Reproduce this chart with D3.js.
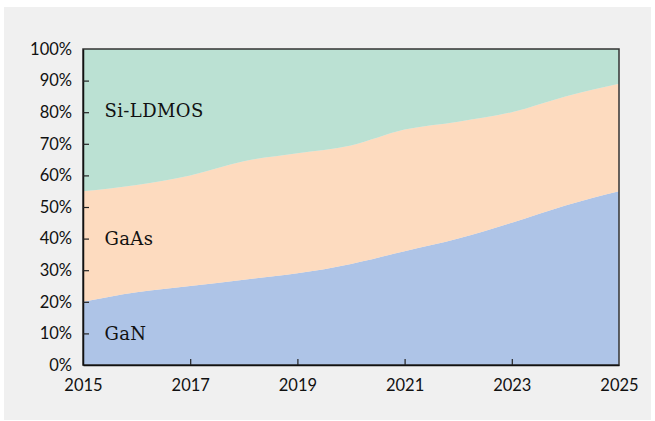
<!DOCTYPE html>
<html>
<head>
<meta charset="utf-8">
<script src="https://cdn.jsdelivr.net/npm/d3@7"></script>
<style>
  body { margin: 0; background: #fff; }
  svg { display: block; }
</style>
</head>
<body>
<svg id="chart" width="655" height="421"></svg>
<script>
// data (share of market, %)
var years = [2015, 2016, 2017, 2018, 2019, 2020, 2021, 2022, 2023, 2024, 2025];
var gan   = [20, 23, 25, 27, 29, 32, 36, 40, 45, 50.5, 55];
var gaas  = [35, 34, 35, 37.5, 38, 37.5, 38.5, 37, 35, 34.5, 34];
var ldmos = [45, 43, 40, 35.5, 33, 30.5, 25.5, 23, 20, 15, 11];
var seriesNames = ["GaN", "GaAs", "Si-LDMOS"];
var colors = ["#aec4e7", "#fddbbf", "#bbe1d3"];
var xTicks = [2015, 2017, 2019, 2021, 2023, 2025];
var yTicks = [0, 10, 20, 30, 40, 50, 60, 70, 80, 90, 100];
var labelPos = [10, 40, 80.5]; // label placed at this % in the band

var svg = d3.select("#chart");
var margin = {left: 83, top: 49, right: 36, bottom: 56};
var width = 655 - margin.left - margin.right,
    height = 421 - margin.top - margin.bottom;

// grey panel
svg.append("rect")
    .attr("x", 4).attr("y", 7)
    .attr("width", 647).attr("height", 413)
    .attr("fill", "#f0f0f0");

var g = svg.append("g").attr("transform", "translate(" + margin.left + "," + margin.top + ")");

var x = d3.scaleLinear().domain([2015, 2025]).range([0, width]);
var y = d3.scaleLinear().domain([0, 100]).range([height, 0]);

var table = years.map(function(yr, i) {
    return {year: yr, "GaN": gan[i], "GaAs": gaas[i], "Si-LDMOS": ldmos[i]};
});
var stack = d3.stack().keys(seriesNames)(table);

var area = d3.area()
    .curve(d3.curveMonotoneX)
    .x(function(d) { return x(d.data.year); })
    .y0(function(d) { return y(d[0]); })
    .y1(function(d) { return y(d[1]); });

g.selectAll("path.layer")
    .data(stack)
    .enter().append("path")
    .attr("class", "layer")
    .attr("d", area)
    .attr("fill", function(d, i) { return colors[i]; });

// series labels
g.selectAll("text.lab")
    .data(seriesNames)
    .enter().append("text")
    .attr("class", "lab")
    .attr("x", x(2015.4))
    .attr("y", function(d, i) { return y(labelPos[i]) + 6.5; })
    .style("font-family", "'DejaVu Serif', serif")
    .style("font-size", "18px")
    .style("letter-spacing", "0.4px")
    .attr("fill", "#111")
    .text(function(d) { return d; });

// frame
g.append("rect")
    .attr("width", width).attr("height", height)
    .attr("fill", "none")
    .attr("stroke", "#333")
    .attr("stroke-width", 1.5);

// y axis
var yAxis = d3.axisLeft(y).tickValues(yTicks).tickSizeInner(-6).tickSizeOuter(0)
    .tickFormat(function(d) { return d + "%"; });
var ya = g.append("g").call(yAxis);
ya.select(".domain").attr("stroke", "#111").attr("stroke-width", 1.5);
ya.selectAll(".tick line").attr("stroke", "#222").attr("stroke-width", 1.2)
    .filter(function(d) { return d === 0 || d === 100; }).remove();
ya.selectAll(".tick text")
    .attr("x", -11)
    .style("font-family", "Lato, sans-serif")
    .style("font-size", "16.5px")
    .attr("fill", "#111");

// x axis
var xAxis = d3.axisBottom(x).tickValues(xTicks).tickSizeInner(-6).tickSizeOuter(0)
    .tickFormat(d3.format("d"));
var xa = g.append("g").attr("transform", "translate(0," + height + ")").call(xAxis);
xa.select(".domain").attr("stroke", "#111").attr("stroke-width", 1.5);
xa.selectAll(".tick line").attr("stroke", "#222").attr("stroke-width", 1.2)
    .filter(function(d) { return d === 2015 || d === 2025; }).remove();
xa.selectAll(".tick text")
    .attr("y", 14)
    .style("font-family", "Lato, sans-serif")
    .style("font-size", "16.5px")
    .attr("fill", "#111");
</script>
</body>
</html>
